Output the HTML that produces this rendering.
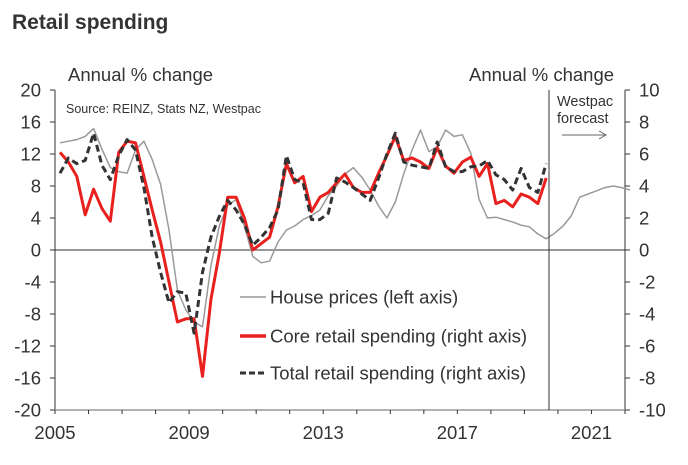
<!DOCTYPE html>
<html><head><meta charset="utf-8"><style>
body{margin:0;background:#fff;}
svg text{font-family:"Liberation Sans",sans-serif;fill:#333;}
</style></head><body>
<svg width="688" height="460" viewBox="0 0 688 460">
<text x="12" y="29" font-size="21" font-weight="bold" fill="#333">Retail spending</text>
<text x="68" y="81" font-size="18.5">Annual % change</text>
<text x="469" y="81" font-size="18.5">Annual % change</text>
<text x="66" y="113" font-size="12.5">Source: REINZ, Stats NZ, Westpac</text>
<g id="axes"></g>
<g id="series"></g>
<line x1="549" y1="90" x2="549" y2="410" stroke="#333" stroke-width="1"/>
<text x="557" y="106" font-size="14.5">Westpac</text>
<text x="557" y="123" font-size="14.5">forecast</text>
<g><line x1="562" y1="135" x2="605" y2="135" stroke="#666" stroke-width="1"/><path d="M599,131 L606,135 L599,139" fill="none" stroke="#666" stroke-width="1"/></g>
<g>
<g><line x1="240" y1="297" x2="266" y2="297" stroke="#999" stroke-width="1.5"/><text x="270" y="303.5" font-size="18.5">House prices (left axis)</text></g>
<g><line x1="240" y1="336" x2="266" y2="336" stroke="#e8201e" stroke-width="3.5"/><text x="270" y="342.5" font-size="18.5">Core retail spending (right axis)</text></g>
<g><line x1="240" y1="373" x2="266" y2="373" stroke="#333" stroke-width="3" stroke-dasharray="6,3"/><text x="270" y="379.5" font-size="18.5">Total retail spending (right axis)</text></g>
</g>
</svg>
<script>
const leftTicks=[20,16,12,8,4,0,-4,-8,-12,-16,-20];
const rightTicks=[10,8,6,4,2,0,-2,-4,-6,-8,-10];
const yearLabels=[2005,2009,2013,2017,2021];
const startYear=2005.15;
const housePrices=[13.4,13.6,13.8,14.2,15.2,12.6,10.3,9.8,9.6,12.5,13.6,11.3,8.2,2.5,-5,-7.5,-9,-9.6,-2,3,5.6,6.3,3,-0.8,-1.6,-1.4,1,2.5,3,3.8,4.3,5,6.8,8,9.5,10.3,9.1,7.5,5.5,4,6,9.5,12.5,15,12.3,12.9,15,14.2,14.4,12.1,6.3,4,4.1,3.8,3.5,3.1,2.9,2,1.4,2.1,3,4.3,6.6,7,7.4,7.8,8,7.8,7.5];
const coreRetail=[6.1,5.5,4.6,2.2,3.8,2.6,1.8,6.1,6.8,6.7,4.6,2.5,0.5,-2,-4.5,-4.3,-4.3,-7.9,-3.1,-0.2,3.3,3.3,2,0,0.4,0.8,2.7,5.4,4.2,4.6,2.4,3.3,3.6,4.2,4.75,3.9,3.6,3.6,4.8,5.9,7.1,5.6,5.75,5.5,5.1,6.4,5.25,4.8,5.5,5.8,4.6,5.4,2.9,3.1,2.7,3.5,3.3,2.9,4.5];
const totalRetail=[4.8,5.75,5.4,5.6,7.3,5.3,4.4,5.9,6.9,6.25,3.9,0.8,-1.4,-3.3,-2.6,-2.7,-5.2,-1.4,0.8,2.1,3.1,2.5,1.6,0.3,0.8,1.4,2.5,5.9,4.4,4.2,1.9,1.9,2.3,4.5,4.25,3.9,3.5,3.1,4.5,6.0,7.3,5.5,5.3,5.2,5.1,6.75,5.2,4.9,4.9,5.2,5.25,5.6,4.7,4.4,3.75,5.1,3.9,3.6,5.4];

const NS="http://www.w3.org/2000/svg";
const X0=55,X1=625,Y0=90,Y1=410;
function xYear(y){return X0+(y-2005)*(X1-X0)/17;}
function xIdx(i){return xYear(startYear+i*0.25);}
function yLeft(v){return Y0+(20-v)*(Y1-Y0)/40;}
function yRight(v){return Y0+(10-v)*(Y1-Y0)/20;}
function mk(tag,attrs,parent){const e=document.createElementNS(NS,tag);for(const k in attrs)e.setAttribute(k,attrs[k]);parent.appendChild(e);return e;}
const axes=document.getElementById('axes');
const ser=document.getElementById('series');
let e;
e=mk('line',{x1:X0,y1:Y0,x2:X0,y2:Y1,stroke:'#333','stroke-width':1},axes);


e=mk('line',{x1:X1,y1:Y0,x2:X1,y2:Y1,stroke:'#333','stroke-width':1},axes);


e=mk('line',{x1:X0,y1:yLeft(0),x2:X1,y2:yLeft(0),stroke:'#333','stroke-width':1},axes);


e=mk('line',{x1:X0,y1:Y1,x2:X1,y2:Y1,stroke:'#999','stroke-width':1.5},axes);


leftTicks.forEach(v=>{
  const y=yLeft(v);
  mk('line',{x1:X0-5,y1:y,x2:X0,y2:y,stroke:'#333'},axes);
  e=mk('text',{x:41,y:y+6.5,'font-size':18.5,'text-anchor':'end'},axes);
  e.textContent=v;
  
  
});
rightTicks.forEach(v=>{
  const y=yRight(v);
  mk('line',{x1:X1,y1:y,x2:X1+5,y2:y,stroke:'#333'},axes);
  e=mk('text',{x:639,y:y+6.5,'font-size':18.5},axes);
  e.textContent=v;
  
  
});
for(let yr=2005;yr<=2022;yr++){
  const x=xYear(yr);
  mk('line',{x1:x,y1:Y1,x2:x,y2:Y1+4,stroke:'#333'},axes);
}
yearLabels.forEach(yr=>{
  e=mk('text',{x:xYear(yr),y:439,'font-size':18.5,'text-anchor':'middle'},axes);
  e.textContent=yr;
  
  
});
function pts(arr,yf){return arr.map((v,i)=>xIdx(i).toFixed(1)+','+yf(v).toFixed(1)).join(' ');}
e=mk('polyline',{points:pts(housePrices,yLeft),fill:'none',stroke:'#9a9a9a','stroke-width':1.5,'stroke-linejoin':'round'},ser);


e=mk('polyline',{points:pts(coreRetail,yRight),fill:'none',stroke:'#e8201e','stroke-width':3,'stroke-linejoin':'round'},ser);


e=mk('polyline',{points:pts(totalRetail,yRight),fill:'none',stroke:'#333','stroke-width':3,'stroke-dasharray':'7,4','stroke-linejoin':'round'},ser);


</script>
</body></html>
